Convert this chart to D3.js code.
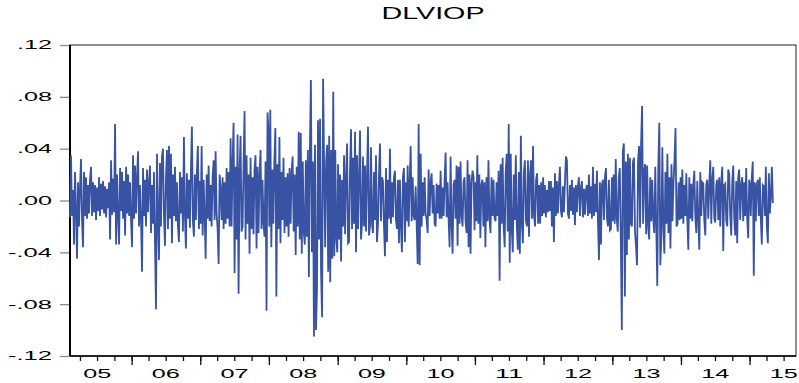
<!DOCTYPE html>
<html>
<head>
<meta charset="utf-8">
<script src="https://cdn.jsdelivr.net/npm/d3@7"></script>
<style>
  body { margin: 0; background: #fff; }
  svg { display: block; }
  text { font-family: "Liberation Sans", Arial, sans-serif; fill: #000; }
</style>
</head>
<body>
<svg id="chart" width="799" height="383"></svg>
<script>
// Daily log changes of VIOP
const title = 'DLVIOP';
const yTicks = [-0.12, -0.08, -0.04, 0, 0.04, 0.08, 0.12];
const yTickLabels = ['-.12', '-.08', '-.04', '.00', '.04', '.08', '.12'];
const yearLabels = ['05', '06', '07', '08', '09', '10', '11', '12', '13', '14', '15'];

// first and last observation of each yearly block
const periods = [
  ['2005-02-07', '2005-12-29'], ['2006-01-03', '2006-12-30'], ['2007-01-03', '2007-12-30'],
  ['2008-01-03', '2008-12-30'], ['2009-01-03', '2009-12-30'], ['2010-01-03', '2010-12-30'],
  ['2011-01-03', '2011-12-30'], ['2012-01-03', '2012-12-30'], ['2013-01-03', '2013-12-30'],
  ['2014-01-03', '2014-12-30'], ['2015-01-02', '2015-05-05']
];

const v2005 = [-.013,.035,-.012,.008,-.034,.022,-.008,-.045,.014,-.020,.010,.032,-.016,-.036,.022,-.012,.018,-.014,.012,-.010,.016,.026,-.012,.014,-.009,.012,-.015,.010,-.008,.018,-.012,.013,-.007,.015,-.010,.011,-.013,.009,-.006,.014,-.030,.031,-.011,.017,-.009,.059,-.034,.020,-.012,-.034,.025,-.008,.022,-.014,.015,-.027,.026,-.010,.020,-.012,.014,-.016];
const v2006 = [-.036,.035,-.014,.027,-.010,.018,.038,-.020,.012,-.015,-.055,.025,-.012,.016,-.020,.024,-.009,.014,.027,-.025,.012,-.018,.022,-.033,-.084,.036,-.015,-.046,.029,-.020,.034,.040,-.012,-.035,.018,.039,-.022,.042,-.014,.036,-.033,.020,-.012,.026,-.016,.014,-.020,-.032,.022,-.010,.018,-.024,.049,-.012,-.037,.021,-.014,.016,-.021,.024,.057,-.016,-.028,.020,-.015,.023,.042,-.022,.015];
const v2007 = [-.018,.042,-.027,.016,-.012,-.045,.020,-.014,.027,-.016,.012,-.020,.018,.031,-.015,.038,-.010,-.022,-.049,.020,.009,-.015,.018,-.022,.014,-.018,.025,-.014,.022,-.020,.048,-.020,.030,.060,-.056,.026,-.030,.051,-.072,.022,.050,-.024,-.020,.028,.069,-.030,.035,-.018,.020,-.041,.033,-.022,.018,-.026,.024,.035,-.037,.026,-.025,.020,.039,-.022,.016,-.018,-.028,.030,-.085,.068,.054];
const v2008 = [-.020,.070,-.036,.024,-.018,.030,.056,-.074,.028,-.022,.049,-.033,.022,-.015,.033,-.025,.018,-.020,.021,-.028,.025,-.018,.022,.034,-.024,.020,-.042,.026,-.020,.053,-.030,.052,-.041,.030,-.025,-.034,.031,-.028,.039,-.059,.040,.093,-.040,.030,-.105,.043,-.100,-.068,.062,-.030,.063,-.055,-.090,.094,.028,-.036,.030,.043,-.055,.050,-.063,.039,-.045,.084,-.043,.039,-.030,-.040];
const v2009 = [.028,-.030,.020,-.047,.016,-.020,.035,-.026,.018,.044,-.033,-.032,.025,.055,-.022,.033,-.018,.053,-.040,.035,-.022,.018,.054,-.030,-.018,.034,-.020,.027,-.024,.020,.057,-.027,-.020,.041,-.018,-.025,.022,-.015,.035,-.032,-.018,.020,.044,-.016,.018,.015,-.020,-.043,.025,-.032,.016,-.014,.040,-.018,.014,-.013,.018,.023,-.015,-.022,.016,-.033,.016,-.020,-.040,.018,.025,-.032,.014];
const v2010 = [-.016,.027,-.020,.014,.042,-.016,.018,-.012,-.015,.011,-.018,-.049,.059,-.050,.036,-.020,.014,-.012,.018,-.010,-.015,-.025,.024,-.012,.014,.021,-.010,.012,-.018,-.020,.013,-.010,.012,-.014,.023,-.014,.010,-.012,.016,.037,-.013,.014,-.015,-.036,.034,-.018,-.041,.012,.016,-.014,.027,-.035,.026,-.018,.030,-.012,-.020,.014,.018,-.016,-.025,.031,-.036,.020,-.041,.014,.023,.018,-.023];
const v2011 = [.014,-.016,.035,-.018,.020,-.029,.012,.016,-.020,.014,-.036,.018,-.016,.031,-.014,-.025,.018,-.012,.016,-.014,-.016,.014,-.012,.023,-.062,.028,-.018,.033,-.020,-.036,.022,.036,-.024,.059,-.048,.036,-.022,-.040,.020,-.015,.035,-.020,-.038,.022,-.041,.050,-.018,-.033,.022,.031,-.016,-.020,.031,-.028,.020,.031,-.014,.042,-.012,-.020,.016,.021,-.018,.012,-.018,.014,-.012,.018];
const v2012 = [-.010,.012,-.013,.008,-.009,.015,-.008,.015,-.020,.010,-.032,.021,-.012,.015,-.010,.012,.026,-.008,-.013,.011,-.009,.014,.034,.031,-.010,-.014,.012,-.008,.016,-.011,.010,-.019,.012,-.009,.011,.018,-.012,.010,.015,-.013,.009,-.011,.008,.012,-.012,.020,-.010,.011,-.014,.026,-.012,.013,-.009,.023,-.016,-.046,.014,-.034,.012,.016,-.015,.018,.025,-.014,-.020,.016,-.023,-.022,.018];
const v2013 = [-.016,.020,-.018,.032,-.014,-.024,.018,.025,-.031,-.100,.038,.044,-.074,.030,-.042,.036,-.030,.033,-.018,-.020,.030,.033,-.024,-.035,-.050,.030,.042,-.021,.044,.073,-.018,.022,.028,-.026,.027,-.020,-.030,.018,-.016,.016,-.014,-.025,.026,-.020,-.066,.026,.060,-.050,-.028,.041,-.020,-.041,.022,-.018,.036,-.025,.018,-.037,.028,-.016,.014,.031,.056,-.020,-.018,.014,-.015,.018];
const v2014 = [-.014,.024,-.018,.012,-.012,.021,-.015,-.038,.018,-.014,.013,-.016,.012,.023,-.012,-.025,.015,-.014,-.038,.022,-.012,.014,.013,-.015,-.027,.012,.016,-.014,.012,.031,-.018,.016,.026,-.014,-.017,.012,.016,-.015,.018,-.020,.014,.026,-.039,.012,.013,-.015,-.020,.024,.020,-.012,-.027,.014,.027,-.014,-.027,.015,-.033,.018,.024,-.015,.012,.018,-.016,.014,-.012,.025,-.014,-.029,.016];
const v2015 = [.013,-.012,.018,.030,-.058,.014,-.016,.012,.016,-.012,.018,-.014,-.034,.012,.011,-.012,.026,-.020,-.033,.021,-.010,.003,.026,-.002];

const series = [v2005, v2006, v2007, v2008, v2009, v2010, v2011, v2012, v2013, v2014, v2015];

const margin = { top: 45, right: 3, bottom: 27, left: 70 };
const width = 799 - margin.left - margin.right;
const height = 383 - margin.top - margin.bottom;
const parse = d3.timeParse('%Y-%m-%d');

// spread each year's observations over its own trading span
let data = [];
series.forEach((vals, i) => {
  const t0 = parse(periods[i][0]), t1 = parse(periods[i][1]);
  const step = (t1 - t0) / (vals.length - 1);
  vals.forEach((v, k) => data.push({ x: new Date(+t0 + k * step), y: v }));
});

const svg = d3.select('#chart')
  .append('g')
  .attr('transform', `translate(${margin.left}, ${margin.top})`);

const x = d3.scaleTime()
  .domain([parse('2005-02-07'), parse('2015-09-05')])
  .range([0, width]);
const y = d3.scaleLinear()
  .domain([-0.12, 0.12])
  .range([height, 0]);

// frame
svg.append('rect')
  .attr('width', width).attr('height', height)
  .attr('fill', 'none').attr('stroke', '#222').attr('stroke-width', 1);

// y axis
const yAxis = d3.axisLeft(y)
  .tickValues(yTicks)
  .tickSize(10)
  .tickPadding(8)
  .tickFormat((d, i) => yTickLabels[i]);
const ay = svg.append('g').call(yAxis);
ay.select('.domain').remove();
ay.selectAll('line').attr('stroke', '#8a8a8a').attr('stroke-width', 1.3);
ay.selectAll('text')
  .attr('font-size', 12)
  .attr('font-family', '"Liberation Sans", Arial, sans-serif')
  .attr('fill', '#111')
  .attr('textLength', d => d < 0 ? 44 : 35)
  .attr('lengthAdjust', 'spacingAndGlyphs');

// x axis: quarters (short) and years (long)
const axMinor = svg.append('g')
  .attr('transform', `translate(0, ${height})`)
  .call(d3.axisBottom(x).ticks(d3.timeMonth.every(3)).tickSize(5).tickFormat(''));
const axMajor = svg.append('g')
  .attr('transform', `translate(0, ${height})`)
  .call(d3.axisBottom(x).ticks(d3.timeYear.every(1)).tickSize(9).tickFormat(''));
axMinor.select('.domain').remove();
axMajor.select('.domain').remove();
svg.selectAll('.tick line').filter(function () { return this.parentNode.parentNode !== ay.node(); })
  .attr('stroke', '#111').attr('stroke-width', 1.3);

svg.append('g').selectAll('text')
  .data(yearLabels)
  .join('text')
  .attr('x', d => x(parse('20' + d + '-07-02')))
  .attr('y', height + 22)
  .attr('text-anchor', 'middle')
  .attr('font-size', 12.5)
  .attr('textLength', 28)
  .attr('lengthAdjust', 'spacingAndGlyphs')
  .text(d => d);

// left axis line heavier
svg.append('line')
  .attr('x1', 0).attr('x2', 0).attr('y1', 0).attr('y2', height)
  .attr('stroke', '#000').attr('stroke-width', 2);
svg.append('line')
  .attr('x1', 0).attr('x2', width).attr('y1', height).attr('y2', height)
  .attr('stroke', '#000').attr('stroke-width', 1.5);

// series
const line = d3.line()
  .x(d => x(d.x))
  .y(d => y(d.y));
svg.append('path')
  .datum(data)
  .attr('d', line)
  .attr('fill', 'none')
  .attr('stroke', '#3953a4')
  .attr('stroke-width', 1.8)
  .attr('stroke-linejoin', 'miter');

// title
d3.select('#chart').append('text')
  .attr('x', margin.left + width / 2)
  .attr('y', 19)
  .attr('text-anchor', 'middle')
  .attr('font-size', 16.5)
  .attr('textLength', 103)
  .attr('lengthAdjust', 'spacingAndGlyphs')
  .text(title);
</script>
</body>
</html>
